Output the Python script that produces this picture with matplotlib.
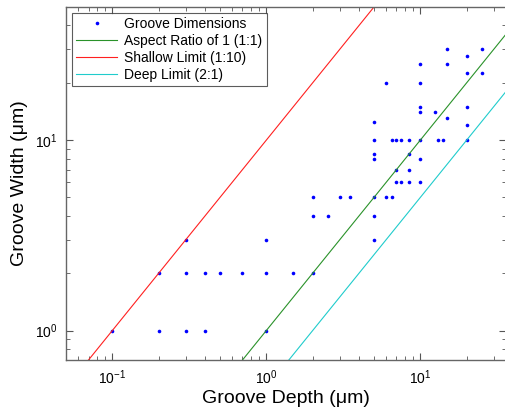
import numpy as np
import matplotlib
matplotlib.use('Agg')
import matplotlib.pyplot as plt
from matplotlib.ticker import LogLocator, NullFormatter

plt.rcParams['font.family'] = ['Liberation Sans', 'DejaVu Sans']
plt.rcParams['mathtext.fontset'] = 'custom'
plt.rcParams['mathtext.rm'] = 'Liberation Sans'
plt.rcParams['mathtext.it'] = 'Liberation Sans'
plt.rcParams['mathtext.default'] = 'regular'

# groove depth / width pairs (um)
depth = [0.1, 0.2, 0.2, 0.3, 0.3, 0.3, 0.4, 0.4, 0.5, 0.7, 1, 1, 1, 1.5,
         2, 2, 2, 2.5, 3, 3.5, 5, 5, 5, 5, 5, 5, 5, 6, 6, 6.5, 6.5,
         7, 7, 7, 7.5, 7.5, 8.5, 8.5, 8.5, 8.5, 10, 10, 10, 10, 10, 10, 10,
         12.5, 13, 14, 15, 15, 15, 20, 20, 20, 20, 20, 25, 25]
width = [1, 1, 2, 1, 2, 3, 1, 2, 2, 2, 1, 2, 3, 2,
         2, 4, 5, 4, 5, 5, 3, 4, 5, 8, 8.5, 10, 12.5, 5, 20, 5, 10,
         6, 7, 10, 6, 10, 6, 7, 8.5, 10, 6, 8, 10, 14, 15, 20, 25,
         14, 10, 10, 13, 25, 30, 10, 12, 15, 22.5, 27.5, 22.5, 30]

# width = ratio * depth
ratios = [1, 10, 0.5]
ratio_labels = ['Aspect Ratio of 1 (1:1)', 'Shallow Limit (1:10)', 'Deep Limit (2:1)']
ratio_colors = ['#2a922a', '#ff2020', '#20cccc']

xlim = (0.05, 36)
ylim = (0.7, 50)

fig = plt.figure(figsize=(5.06, 4.08), dpi=100)
ax = fig.add_axes([66/506, 48/408, 440/506, 353/408])

ax.plot(depth, width, 'o', color='#0000ff', markersize=2.6, markeredgewidth=0,
        label='Groove Dimensions')
xx = np.array(xlim)
for r, lab, c in zip(ratios, ratio_labels, ratio_colors):
    ax.plot(xx, r * xx, '-', color=c, linewidth=0.8, label=lab)

ax.set_xscale('log')
ax.set_yscale('log')
ax.set_xlim(*xlim)
ax.set_ylim(*ylim)

ax.xaxis.set_major_locator(LogLocator(base=10, numticks=10))
ax.yaxis.set_major_locator(LogLocator(base=10, numticks=10))
ax.xaxis.set_minor_locator(LogLocator(base=10, subs=np.arange(2, 10), numticks=10))
ax.yaxis.set_minor_locator(LogLocator(base=10, subs=np.arange(2, 10), numticks=10))
ax.xaxis.set_minor_formatter(NullFormatter())
ax.yaxis.set_minor_formatter(NullFormatter())

ax.tick_params(which='both', direction='in', top=True, right=True,
               color='#555555', labelsize=10)
ax.tick_params(which='major', length=5, width=0.8, pad=6)
ax.tick_params(which='minor', length=3, width=0.6)
for s in ax.spines.values():
    s.set_color('#666666')
    s.set_linewidth(1.0)

ax.set_xlabel('Groove Depth (\u03bcm)', fontsize=14, labelpad=2)
ax.set_ylabel('Groove Width (\u03bcm)', fontsize=14, labelpad=5)

leg = ax.legend(loc='upper left', fontsize=10, handlelength=3.0,
                frameon=True, fancybox=False, borderaxespad=0.4,
                labelspacing=0.22, handletextpad=0.5, borderpad=0.3,
                markerscale=1.0)
leg.get_frame().set_edgecolor('#333333')
leg.get_frame().set_linewidth(0.8)

fig.savefig('out.png', dpi=100)
plt.close(fig)
